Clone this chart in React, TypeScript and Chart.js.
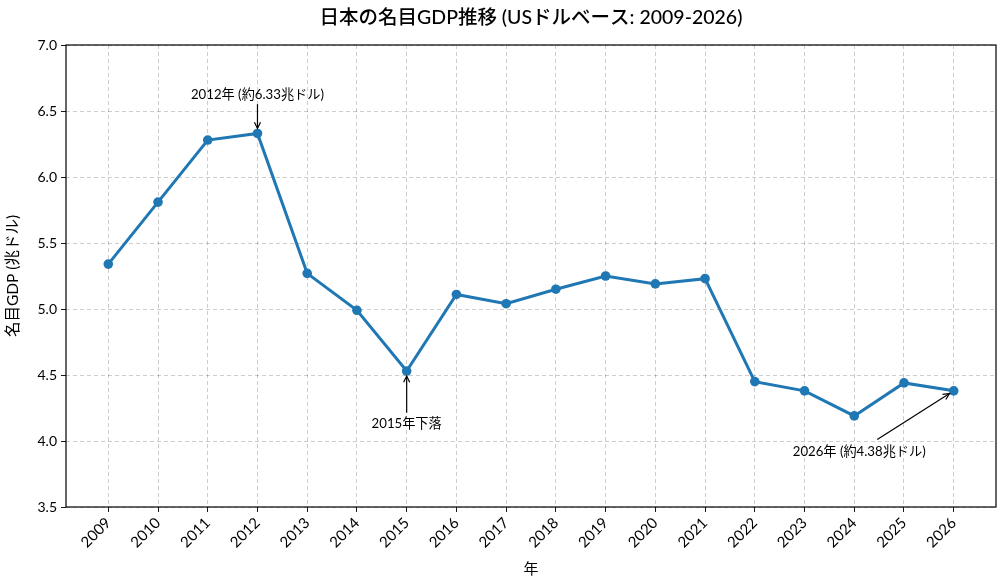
import { useEffect, useRef } from "react"
import { Chart, registerables } from "chart.js"

Chart.register(...registerables)

const FONT = "Lato, 'Noto Sans CJK JP', sans-serif"

// 年と名目GDP (兆ドル)
const years = [2009, 2010, 2011, 2012, 2013, 2014, 2015, 2016, 2017, 2018, 2019, 2020, 2021, 2022, 2023, 2024, 2025, 2026]
const gdp = [5.34, 5.81, 6.28, 6.33, 5.27, 4.99, 4.53, 5.11, 5.04, 5.15, 5.25, 5.19, 5.23, 4.45, 4.38, 4.19, 4.44, 4.38]
const yTicks = [3.5, 4.0, 4.5, 5.0, 5.5, 6.0, 6.5, 7.0]

// 注記: テキスト位置 (データ座標) と矢印の先
const notes = [
  { text: "2012年 (約6.33兆ドル)", tx: 2012, ty: 6.62, ax: 2012, ay: 6.33 },
  { text: "2015年下落", tx: 2015, ty: 4.13, ax: 2015, ay: 4.53 },
  { text: "2026年 (約4.38兆ドル)", tx: 2024.1, ty: 3.92, ax: 2026, ay: 4.38 },
]

const annotationPlugin = {
  id: "notes",
  afterDatasetsDraw(chart: any) {
    const { ctx, chartArea, scales } = chart
    const xs = scales.x
    const ys = scales.y
    ctx.save()
    // frame
    ctx.strokeStyle = "#000"
    ctx.lineWidth = 1.2
    ctx.strokeRect(chartArea.left, chartArea.top, chartArea.right - chartArea.left, chartArea.bottom - chartArea.top)

    ctx.font = `13.2px ${FONT}`
    ctx.fillStyle = "#000"
    ctx.textAlign = "center"
    ctx.textBaseline = "middle"
    notes.forEach((n) => {
      const tx = xs.getPixelForValue(n.tx)
      const ty = ys.getPixelForValue(n.ty)
      const px = xs.getPixelForValue(n.ax)
      const py = ys.getPixelForValue(n.ay)
      ctx.fillText(n.text, tx, ty)
      // arrow start: edge of text box
      let sx = tx
      let sy = ty > py ? ty - 11 : ty + 9
      if (Math.abs(tx - px) > 20) {
        sx = tx + 18
        sy = ty - 12
      }
      const ang = Math.atan2(py - sy, px - sx)
      const ex = px - Math.cos(ang) * 5
      const ey = py - Math.sin(ang) * 5
      ctx.strokeStyle = "#000"
      ctx.lineWidth = 1.2
      ctx.beginPath()
      ctx.moveTo(sx, sy)
      ctx.lineTo(ex, ey)
      ctx.stroke()
      const h = 7
      ctx.beginPath()
      ctx.moveTo(ex - Math.cos(ang - 0.45) * h, ey - Math.sin(ang - 0.45) * h)
      ctx.lineTo(ex, ey)
      ctx.lineTo(ex - Math.cos(ang + 0.45) * h, ey - Math.sin(ang + 0.45) * h)
      ctx.stroke()
    })

    // title
    ctx.font = `500 19.5px ${FONT}`
    ctx.fillText("日本の名目GDP推移 (USドルベース: 2009-2026)", (chartArea.left + chartArea.right) / 2, 18)
    ctx.restore()
  },
}

const gridStyle = () => ({
  color: "rgba(0,0,0,0.22)",
  tickBorderDash: [],
  tickColor: "#000",
  tickLength: 5,
  lineWidth: 0.9,
})

export default function App() {
  const canvasRef = useRef<HTMLCanvasElement>(null)

  useEffect(() => {
    document.body.style.margin = "0"
    if (!canvasRef.current) return
    const chart = new Chart(canvasRef.current, {
      type: "line",
      data: {
        datasets: [
          {
            data: years.map((y, i) => ({ x: y, y: gdp[i] })),
            borderColor: "#1f77b4",
            backgroundColor: "#1f77b4",
            borderWidth: 3,
            pointRadius: 4.8,
            pointBorderWidth: 0,
            tension: 0,
          },
        ],
      },
      options: {
        responsive: false,
        animation: false,
        layout: { padding: { top: 45, right: 10, left: 0, bottom: 0 } },
        plugins: { legend: { display: false }, tooltip: { enabled: false } },
        scales: {
          x: {
            type: "linear",
            min: 2008.15,
            max: 2026.85,
            afterFit: (s: any) => {
              s.height = 81
            },
            afterBuildTicks: (s: any) => {
              s.ticks = years.map((v) => ({ value: v }))
            },
            ticks: {
              callback: (v: any) => String(v),
              autoSkip: false,
              maxRotation: 45,
              minRotation: 45,
              color: "#000",
              font: { family: FONT, size: 15 },
              padding: 2,
            },
            grid: gridStyle(),
            border: { display: false, dash: [4, 3] },
            title: {
              display: true,
              text: "年",
              color: "#000",
              font: { family: FONT, size: 15 },
              padding: { top: 0, bottom: 10 },
            },
          },
          y: {
            min: 3.5,
            max: 7.0,
            afterFit: (s: any) => {
              s.width = 66
            },
            afterBuildTicks: (s: any) => {
              s.ticks = yTicks.map((v) => ({ value: v }))
            },
            ticks: {
              callback: (v: any) => Number(v).toFixed(1),
              color: "#000",
              font: { family: FONT, size: 14 },
              padding: 4,
            },
            grid: gridStyle(),
            border: { display: false, dash: [4, 3] },
            title: {
              display: true,
              text: "名目GDP (兆ドル)",
              color: "#000",
              font: { family: FONT, size: 15.5 },
              padding: { top: 4, bottom: 0 },
            },
          },
        },
      },
      plugins: [annotationPlugin],
    } as any)
    return () => chart.destroy()
  }, [])

  return (
    <div style={{ width: 1006, height: 588, background: "#fff" }}>
      <canvas ref={canvasRef} width={1006} height={588} style={{ width: 1006, height: 588 }} />
    </div>
  )
}
